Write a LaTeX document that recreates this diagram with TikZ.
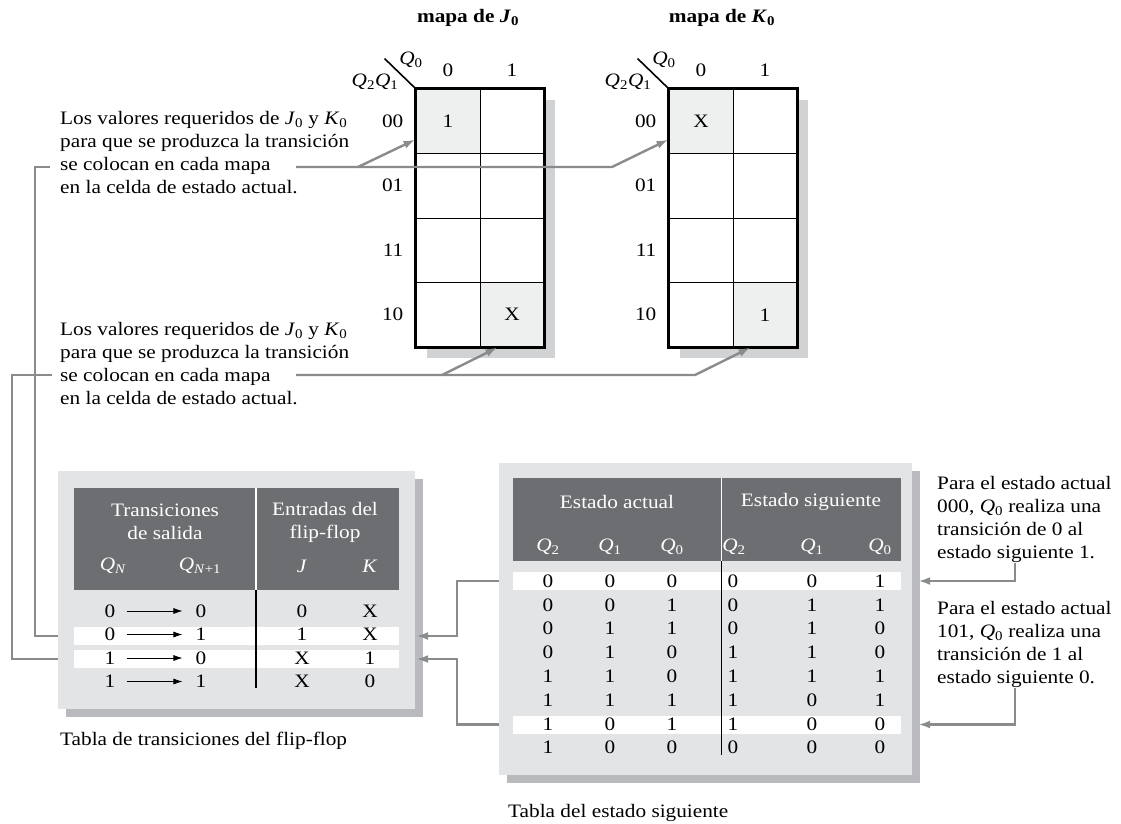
\documentclass[tikz,border=0pt]{standalone}
\usepackage{fontspec}
\setmainfont[FakeStretch=1.12]{Liberation Serif}
\usetikzlibrary{arrows.meta, positioning, calc}

\definecolor{linegray}{HTML}{8A8B8D}
\definecolor{boxgray}{HTML}{E3E4E6}
\definecolor{boxshadow}{HTML}{B9BABD}
\definecolor{headgray}{HTML}{6D6E71}
\definecolor{mapshadow}{HTML}{D1D2D4}
\definecolor{cellgray}{HTML}{EEF0EF}

\newcommand{\qsub}[2]{\textit{#1}\textsubscript{#2}}

\begin{document}
\begin{tikzpicture}[
    x=1pt, y=-1pt,
    every node/.style={font=\fontsize{19}{23}\selectfont, inner sep=0pt},
    kcell/.style={draw=black, fill=white, line width=1pt, minimum width=64pt, minimum height=64.5pt},
    note/.style={align=left, anchor=north west},
    headtxt/.style={text=white, align=center},
    conn/.style={draw=linegray, line width=2.4pt},
    connarrow/.style={-{Latex[length=12pt, width=8pt]}},
    smallarrow/.style={-{Latex[length=9pt, width=6pt]}, line width=0.8pt},
    rowbar/.style={fill=white, minimum height=18pt},
]
    \useasboundingbox (0,0) rectangle (1121,823);

    % J0 map
    \node[font=\fontsize{19}{23}\selectfont\bfseries] (jtitle) at (468,18) {mapa de \textit{J}\textsubscript{0}};
    \fill[mapshadow] (427,100) rectangle (555,358);
    \node[kcell, fill=cellgray] (j00a) at (448,121.25) {1};
    \node[kcell] (j00b) at (512,121.25) {};
    \node[kcell] (j01a) at (448,185.75) {};
    \node[kcell] (j01b) at (512,185.75) {};
    \node[kcell] (j11a) at (448,250.25) {};
    \node[kcell] (j11b) at (512,250.25) {};
    \node[kcell] (j10a) at (448,314.75) {};
    \node[kcell, fill=cellgray] (j10b) at (512,314.75) {X};
    \draw[line width=2.2pt] (j00a.north west) rectangle (j10b.south east);
    \draw[line width=1.6pt] (j00a.north west) -- ++(-31,-30);
    \node (jq0) at (411,60) {\qsub{Q}{0}};
    \node (jq21) at (375,82) {\qsub{Q}{2}\qsub{Q}{1}};
    \node[above=12pt of j00a] {0};
    \node[above=12pt of j00b] {1};
    \node[left=12pt of j00a] {00};
    \node[left=12pt of j01a] {01};
    \node[left=12pt of j11a] {11};
    \node[left=12pt of j10a] {10};

    % K0 map
    \node[font=\fontsize{19}{23}\selectfont\bfseries] (ktitle) at (722,18) {mapa de \textit{K}\textsubscript{0}};
    \fill[mapshadow] (680,100) rectangle (808,358);
    \node[kcell, fill=cellgray] (k00a) at (701,121.25) {X};
    \node[kcell] (k00b) at (765,121.25) {};
    \node[kcell] (k01a) at (701,185.75) {};
    \node[kcell] (k01b) at (765,185.75) {};
    \node[kcell] (k11a) at (701,250.25) {};
    \node[kcell] (k11b) at (765,250.25) {};
    \node[kcell] (k10a) at (701,314.75) {};
    \node[kcell, fill=cellgray] (k10b) at (765,314.75) {1};
    \draw[line width=2.2pt] (k00a.north west) rectangle (k10b.south east);
    \draw[line width=1.6pt] (k00a.north west) -- ++(-31,-30);
    \node (kq0) at (664,60) {\qsub{Q}{0}};
    \node (kq21) at (628,82) {\qsub{Q}{2}\qsub{Q}{1}};
    \node[above=12pt of k00a] {0};
    \node[above=12pt of k00b] {1};
    \node[left=12pt of k00a] {00};
    \node[left=12pt of k01a] {01};
    \node[left=12pt of k11a] {11};
    \node[left=12pt of k10a] {10};

    % Notes
    \node[note] (noteA) at (60,111) {Los valores requeridos de \qsub{J}{0} y \qsub{K}{0}\\para que se produzca la transición\\se colocan en cada mapa\\en la celda de estado actual.};
    \node[note] (noteB) at (60,322) {Los valores requeridos de \qsub{J}{0} y \qsub{K}{0}\\para que se produzca la transición\\se colocan en cada mapa\\en la celda de estado actual.};
    \node[note] (noteC) at (937,476) {Para el estado actual\\000, \qsub{Q}{0} realiza una\\transición de 0 al\\estado siguiente 1.};
    \node[note] (noteD) at (937,601) {Para el estado actual\\101, \qsub{Q}{0} realiza una\\transición de 1 al\\estado siguiente 0.};

    % Flip-flop table
    \fill[boxshadow] (66,479) rectangle (423,717);
    \node[fill=boxgray, minimum width=357pt, minimum height=238pt] (ffbox) at (236.5,590) {};
    \node[fill=headgray, minimum width=325pt, minimum height=102pt] (ffhead) at (236.5,539) {};
    \node[rowbar, minimum width=325pt] (ffbar2) at (236.5,636) {};
    \node[rowbar, minimum width=325pt] (ffbar3) at (236.5,659) {};
    \draw[white, line width=1.2pt] (256,488) -- (256,590);
    \draw[line width=1.2pt] (256,590) -- (256,688);
    \node[headtxt] at (165,522) {Transiciones\\de salida};
    \node[headtxt] at (325,522) {Entradas del\\flip-flop};
    \node[headtxt] at (113,566) {\qsub{Q}{\textit{N}}};
    \node[headtxt] at (200,566) {\qsub{Q}{\textit{N}+1}};
    \node[headtxt] at (302,566) {\textit{J}};
    \node[headtxt] at (370,566) {\textit{K}};
    \foreach \a/\b/\j/\k [count=\i] in {0/0/0/X, 0/1/1/X, 1/0/X/1, 1/1/X/0} {
        \node (ffq\i) at (110,{611+(\i-1)*23.5}) {\a};
        \node (ffn\i) at (201,{611+(\i-1)*23.5}) {\b};
        \node (ffj\i) at (302,{611+(\i-1)*23.5}) {\j};
        \node (ffk\i) at (370,{611+(\i-1)*23.5}) {\k};
        \draw[smallarrow] ([xshift=11pt]ffq\i.east) -- ([xshift=-13pt]ffn\i.west);
    }
    \node[anchor=west] (ffcap) at (60,741) {Tabla de transiciones del flip-flop};

    % Next-state table
    \fill[boxshadow] (507,471) rectangle (920,783);
    \node[fill=boxgray, minimum width=413pt, minimum height=312pt] (nsbox) at (705.5,619) {};
    \node[fill=headgray, minimum width=388pt, minimum height=83pt] (nshead) at (707,519.5) {};
    \node[rowbar, minimum width=388pt] (nsbar1) at (707,581) {};
    \node[rowbar, minimum width=388pt] (nsbar7) at (707,724.5) {};
    \draw[white, line width=1.2pt] (721.5,478) -- (721.5,561);
    \draw[line width=1.2pt] (721.5,561) -- (721.5,755);
    \node[headtxt] at (617,502) {Estado actual};
    \node[headtxt] at (811,502) {Estado siguiente};
    \node[headtxt] at (548,547) {\qsub{Q}{2}};
    \node[headtxt] at (610,547) {\qsub{Q}{1}};
    \node[headtxt] at (672,547) {\qsub{Q}{0}};
    \node[headtxt] at (734,547) {\qsub{Q}{2}};
    \node[headtxt] at (812,547) {\qsub{Q}{1}};
    \node[headtxt] at (880,547) {\qsub{Q}{0}};
    \foreach \a/\b/\c/\d/\e/\f [count=\i] in {0/0/0/0/0/1, 0/0/1/0/1/1, 0/1/1/0/1/0, 0/1/0/1/1/0,
        1/1/0/1/1/1, 1/1/1/1/0/1, 1/0/1/1/0/0, 1/0/0/0/0/0} {
        \node at (548,{581+(\i-1)*23.8}) {\a};
        \node at (610,{581+(\i-1)*23.8}) {\b};
        \node at (672,{581+(\i-1)*23.8}) {\c};
        \node at (733,{581+(\i-1)*23.8}) {\d};
        \node at (812,{581+(\i-1)*23.8}) {\e};
        \node at (880,{581+(\i-1)*23.8}) {\f};
    }
    \node[anchor=west] (nscap) at (508,813) {Tabla del estado siguiente};

    % Connectors
    \coordinate (a1s) at (296,167);
    \coordinate (a1j) at (358,167);
    \coordinate (a1k) at (612,167);
    \coordinate (a1l) at (50,167);
    \coordinate (a2s) at (296,375);
    \coordinate (a2j) at (442,375);
    \coordinate (a2k) at (695,375);
    \coordinate (a2l) at (52,375);
    \draw[conn, connarrow] (a1s) -- (a1k) -- ($(k00a.south west)+(0,-14.5)$);
    \draw[conn, connarrow] (a1j) -- ($(j00a.south west)+(0,-14.5)$);
    \draw[conn, connarrow] (a2s) -- (a2k) -- ($(k10b.south west)+(18,0)$);
    \draw[conn, connarrow] (a2j) -- ($(j10b.south west)+(18,0)$);
    \draw[conn] (a1l) -- (35,167) |- (ffbar2 -| ffbox.west);
    \draw[conn] (a2l) -- (12,375) |- (ffbar3 -| ffbox.west);
    \draw[conn, connarrow] (nsbar1 -| nsbox.west) -| (457,610) |- ($(ffbar2 -| ffbox.east)+(1,0)$);
    \draw[conn, connarrow] (nsbar7 -| nsbox.west) -| (457,690) |- ($(ffbar3 -| ffbox.east)+(1,0)$);
    \draw[conn, connarrow] (1015,563) |- ($(nsbar1 -| nsbox.east)+(6,0)$);
    \draw[conn, connarrow] (1015,688) |- ($(nsbar7 -| nsbox.east)+(6,0)$);
\end{tikzpicture}
\end{document}
